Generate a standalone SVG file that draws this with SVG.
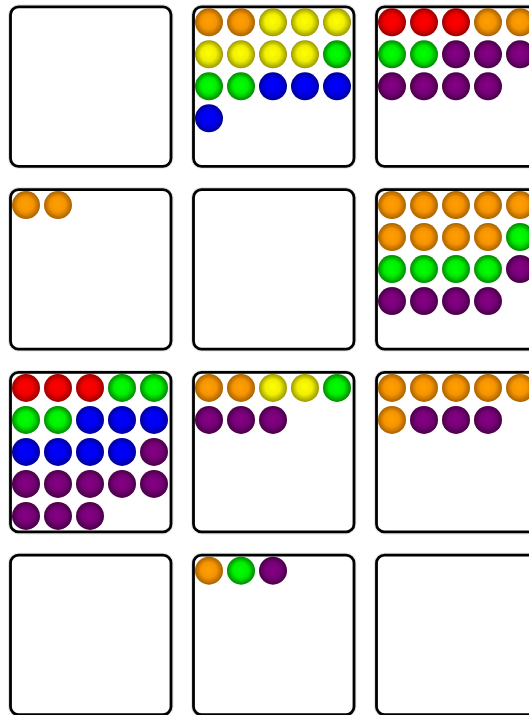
<svg xmlns="http://www.w3.org/2000/svg" width="529" height="715" viewBox="0 0 529 715">
<defs>
<radialGradient id="gO" cx="50%" cy="50%" r="50%" fx="47%" fy="45%"><stop offset="0" stop-color="#ffa000"/><stop offset="0.55" stop-color="#f59400"/><stop offset="1" stop-color="#a86200"/></radialGradient>
<radialGradient id="gY" cx="50%" cy="50%" r="50%" fx="47%" fy="45%"><stop offset="0" stop-color="#ffff00"/><stop offset="0.55" stop-color="#f0ef00"/><stop offset="1" stop-color="#9c9800"/></radialGradient>
<radialGradient id="gG" cx="50%" cy="50%" r="50%" fx="47%" fy="45%"><stop offset="0" stop-color="#00ff00"/><stop offset="0.55" stop-color="#00ee00"/><stop offset="1" stop-color="#008a00"/></radialGradient>
<radialGradient id="gB" cx="50%" cy="50%" r="50%" fx="47%" fy="45%"><stop offset="0" stop-color="#0000ff"/><stop offset="0.55" stop-color="#0000f0"/><stop offset="1" stop-color="#00009a"/></radialGradient>
<radialGradient id="gR" cx="50%" cy="50%" r="50%" fx="47%" fy="45%"><stop offset="0" stop-color="#ff0000"/><stop offset="0.55" stop-color="#f00000"/><stop offset="1" stop-color="#9c0000"/></radialGradient>
<radialGradient id="gP" cx="50%" cy="50%" r="50%" fx="47%" fy="45%"><stop offset="0" stop-color="#860086"/><stop offset="0.55" stop-color="#780078"/><stop offset="1" stop-color="#480048"/></radialGradient>
</defs>
<style>
.sh{fill:none;stroke:#e6e6e6;stroke-width:5}
.bx{fill:#fff;stroke:#000;stroke-width:2.8}
.o{fill:url(#gO)}.y{fill:url(#gY)}.g{fill:url(#gG)}.b{fill:url(#gB)}.r{fill:url(#gR)}.p{fill:url(#gP)}
</style>
<rect width="529" height="715" fill="#fff"/>
<g id="connectors"/>

<g id="box-1-1" transform="translate(10.5,6.8)">
<rect class="sh" width="160.5" height="159.5" rx="8"/><rect class="bx" width="160.5" height="159.5" rx="8"/>
</g>

<g id="box-1-2" transform="translate(193.5,6.8)">
<rect class="sh" width="160.5" height="159.5" rx="8"/><rect class="bx" width="160.5" height="159.5" rx="8"/>
<circle class="o" cx="15.5" cy="15.5" r="14"/><circle class="o" cx="47.5" cy="15.5" r="14"/><circle class="y" cx="79.5" cy="15.5" r="14"/><circle class="y" cx="111.5" cy="15.5" r="14"/><circle class="y" cx="143.5" cy="15.5" r="14"/>
<circle class="y" cx="15.5" cy="47.5" r="14"/><circle class="y" cx="47.5" cy="47.5" r="14"/><circle class="y" cx="79.5" cy="47.5" r="14"/><circle class="y" cx="111.5" cy="47.5" r="14"/><circle class="g" cx="143.5" cy="47.5" r="14"/>
<circle class="g" cx="15.5" cy="79.5" r="14"/><circle class="g" cx="47.5" cy="79.5" r="14"/><circle class="b" cx="79.5" cy="79.5" r="14"/><circle class="b" cx="111.5" cy="79.5" r="14"/><circle class="b" cx="143.5" cy="79.5" r="14"/>
<circle class="b" cx="15.5" cy="111.5" r="14"/>
</g>

<g id="box-1-3" transform="translate(376.5,6.8)">
<rect class="sh" width="160.5" height="159.5" rx="8"/><rect class="bx" width="160.5" height="159.5" rx="8"/>
<circle class="r" cx="15.5" cy="15.5" r="14"/><circle class="r" cx="47.5" cy="15.5" r="14"/><circle class="r" cx="79.5" cy="15.5" r="14"/><circle class="o" cx="111.5" cy="15.5" r="14"/><circle class="o" cx="143.5" cy="15.5" r="14"/>
<circle class="g" cx="15.5" cy="47.5" r="14"/><circle class="g" cx="47.5" cy="47.5" r="14"/><circle class="p" cx="79.5" cy="47.5" r="14"/><circle class="p" cx="111.5" cy="47.5" r="14"/><circle class="p" cx="143.5" cy="47.5" r="14"/>
<circle class="p" cx="15.5" cy="79.5" r="14"/><circle class="p" cx="47.5" cy="79.5" r="14"/><circle class="p" cx="79.5" cy="79.5" r="14"/><circle class="p" cx="111.5" cy="79.5" r="14"/>
</g>

<g id="box-2-1" transform="translate(10.5,189.6)">
<rect class="sh" width="160.5" height="159.5" rx="8"/><rect class="bx" width="160.5" height="159.5" rx="8"/>
<circle class="o" cx="15.5" cy="15.5" r="14"/><circle class="o" cx="47.5" cy="15.5" r="14"/>
</g>

<g id="box-2-2" transform="translate(193.5,189.6)">
<rect class="sh" width="160.5" height="159.5" rx="8"/><rect class="bx" width="160.5" height="159.5" rx="8"/>
</g>

<g id="box-2-3" transform="translate(376.5,189.6)">
<rect class="sh" width="160.5" height="159.5" rx="8"/><rect class="bx" width="160.5" height="159.5" rx="8"/>
<circle class="o" cx="15.5" cy="15.5" r="14"/><circle class="o" cx="47.5" cy="15.5" r="14"/><circle class="o" cx="79.5" cy="15.5" r="14"/><circle class="o" cx="111.5" cy="15.5" r="14"/><circle class="o" cx="143.5" cy="15.5" r="14"/>
<circle class="o" cx="15.5" cy="47.5" r="14"/><circle class="o" cx="47.5" cy="47.5" r="14"/><circle class="o" cx="79.5" cy="47.5" r="14"/><circle class="o" cx="111.5" cy="47.5" r="14"/><circle class="g" cx="143.5" cy="47.5" r="14"/>
<circle class="g" cx="15.5" cy="79.5" r="14"/><circle class="g" cx="47.5" cy="79.5" r="14"/><circle class="g" cx="79.5" cy="79.5" r="14"/><circle class="g" cx="111.5" cy="79.5" r="14"/><circle class="p" cx="143.5" cy="79.5" r="14"/>
<circle class="p" cx="15.5" cy="111.5" r="14"/><circle class="p" cx="47.5" cy="111.5" r="14"/><circle class="p" cx="79.5" cy="111.5" r="14"/><circle class="p" cx="111.5" cy="111.5" r="14"/>
</g>

<g id="box-3-1" transform="translate(10.5,372.4)">
<rect class="sh" width="160.5" height="159.5" rx="8"/><rect class="bx" width="160.5" height="159.5" rx="8"/>
<circle class="r" cx="15.5" cy="15.5" r="14"/><circle class="r" cx="47.5" cy="15.5" r="14"/><circle class="r" cx="79.5" cy="15.5" r="14"/><circle class="g" cx="111.5" cy="15.5" r="14"/><circle class="g" cx="143.5" cy="15.5" r="14"/>
<circle class="g" cx="15.5" cy="47.5" r="14"/><circle class="g" cx="47.5" cy="47.5" r="14"/><circle class="b" cx="79.5" cy="47.5" r="14"/><circle class="b" cx="111.5" cy="47.5" r="14"/><circle class="b" cx="143.5" cy="47.5" r="14"/>
<circle class="b" cx="15.5" cy="79.5" r="14"/><circle class="b" cx="47.5" cy="79.5" r="14"/><circle class="b" cx="79.5" cy="79.5" r="14"/><circle class="b" cx="111.5" cy="79.5" r="14"/><circle class="p" cx="143.5" cy="79.5" r="14"/>
<circle class="p" cx="15.5" cy="111.5" r="14"/><circle class="p" cx="47.5" cy="111.5" r="14"/><circle class="p" cx="79.5" cy="111.5" r="14"/><circle class="p" cx="111.5" cy="111.5" r="14"/><circle class="p" cx="143.5" cy="111.5" r="14"/>
<circle class="p" cx="15.5" cy="143.5" r="14"/><circle class="p" cx="47.5" cy="143.5" r="14"/><circle class="p" cx="79.5" cy="143.5" r="14"/>
</g>

<g id="box-3-2" transform="translate(193.5,372.4)">
<rect class="sh" width="160.5" height="159.5" rx="8"/><rect class="bx" width="160.5" height="159.5" rx="8"/>
<circle class="o" cx="15.5" cy="15.5" r="14"/><circle class="o" cx="47.5" cy="15.5" r="14"/><circle class="y" cx="79.5" cy="15.5" r="14"/><circle class="y" cx="111.5" cy="15.5" r="14"/><circle class="g" cx="143.5" cy="15.5" r="14"/>
<circle class="p" cx="15.5" cy="47.5" r="14"/><circle class="p" cx="47.5" cy="47.5" r="14"/><circle class="p" cx="79.5" cy="47.5" r="14"/>
</g>

<g id="box-3-3" transform="translate(376.5,372.4)">
<rect class="sh" width="160.5" height="159.5" rx="8"/><rect class="bx" width="160.5" height="159.5" rx="8"/>
<circle class="o" cx="15.5" cy="15.5" r="14"/><circle class="o" cx="47.5" cy="15.5" r="14"/><circle class="o" cx="79.5" cy="15.5" r="14"/><circle class="o" cx="111.5" cy="15.5" r="14"/><circle class="o" cx="143.5" cy="15.5" r="14"/>
<circle class="o" cx="15.5" cy="47.5" r="14"/><circle class="p" cx="47.5" cy="47.5" r="14"/><circle class="p" cx="79.5" cy="47.5" r="14"/><circle class="p" cx="111.5" cy="47.5" r="14"/>
</g>

<g id="box-4-1" transform="translate(10.5,555.2)">
<rect class="sh" width="160.5" height="159.5" rx="8"/><rect class="bx" width="160.5" height="159.5" rx="8"/>
</g>

<g id="box-4-2" transform="translate(193.5,555.2)">
<rect class="sh" width="160.5" height="159.5" rx="8"/><rect class="bx" width="160.5" height="159.5" rx="8"/>
<circle class="o" cx="15.5" cy="15.5" r="14"/><circle class="g" cx="47.5" cy="15.5" r="14"/><circle class="p" cx="79.5" cy="15.5" r="14"/>
</g>

<g id="box-4-3" transform="translate(376.5,555.2)">
<rect class="sh" width="160.5" height="159.5" rx="8"/><rect class="bx" width="160.5" height="159.5" rx="8"/>
</g>
</svg>
